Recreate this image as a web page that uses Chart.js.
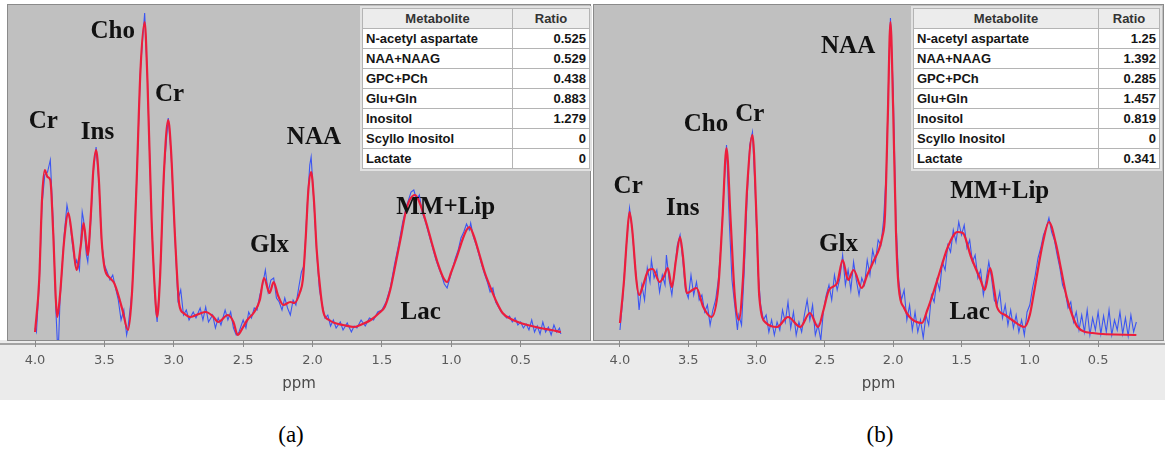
<!DOCTYPE html>
<html>
<head>
<meta charset="utf-8">
<script src="https://cdn.jsdelivr.net/npm/chart.js@4.4.1/dist/chart.umd.min.js"></script>
<style>
  body { margin: 0; background: #fff; width: 1165px; height: 454px; position: relative; overflow: hidden; font-family: "Liberation Sans", Arial, sans-serif; }
  canvas { position: absolute; top: 0; }
  #cA { left: 0; }
  #cB { left: 592px; }
  .ratio { position: absolute; top: 8px; border-collapse: collapse; background: #fff; font: bold 13px "Liberation Sans", Arial, sans-serif; color: #151515; outline: 2px solid #e2e2e2; }
  .ratio td, .ratio th { border: 1px solid #b4b4b4; height: 19px; padding: 0 3px; white-space: nowrap; }
  .ratio th { background: #ececec; color: #333; text-align: center; }
  .ratio td.v { text-align: right; }
  .cap { position: absolute; top: 422px; font: 23px "Liberation Serif", "Times New Roman", serif; color: #000; transform: translateX(-50%); }
</style>
</head>
<body>
<canvas id="cA" width="592" height="405"></canvas>
<canvas id="cB" width="573" height="405"></canvas>
<table class="ratio" id="tA" style="left:362px;width:228px"></table>
<table class="ratio" id="tB" style="left:913px;width:247px"></table>
<div class="cap" style="left:291px">(a)</div>
<div class="cap" style="left:880px">(b)</div>
<script>
// ppm tick marks
const TICKS = [4.0, 3.5, 3.0, 2.5, 2.0, 1.5, 1.0, 0.5];

// ratio tables
const METABOLITES = ['N-acetyl aspartate', 'NAA+NAAG', 'GPC+PCh', 'Glu+Gln', 'Inositol', 'Scyllo Inositol', 'Lactate'];
const RATIOS_A = ['0.525', '0.529', '0.438', '0.883', '1.279', '0', '0'];
const RATIOS_B = ['1.25', '1.392', '0.285', '1.457', '0.819', '0', '0.341'];

// peak names: [text, ppm, height]
const LABELS_A = [['Cr', 3.94, 218], ['Ins', 3.55, 207], ['Cho', 3.44, 308], ['Cr', 3.03, 245], ['NAA', 1.99, 202], ['Glx', 2.31, 94], ['MM+Lip', 1.04, 132], ['Lac', 1.22, 27]];
const LABELS_B = [['Cr', 3.94, 153], ['Ins', 3.54, 131], ['Cho', 3.37, 215], ['Cr', 3.05, 225], ['NAA', 2.33, 293], ['Glx', 2.40, 95], ['MM+Lip', 1.22, 148], ['Lac', 1.44, 27]];

// spectrum (a): fitted curve and measured signal, [ppm, intensity]
const FIT_A = [[4.00,8],[3.97,60],[3.95,140],[3.93,170],[3.91,163],[3.89,160],[3.87,110],[3.85,40],[3.84,23],[3.82,45],[3.79,100],[3.76,127],[3.73,100],[3.70,70],[3.67,95],[3.65,117],[3.63,95],[3.62,85],[3.60,120],[3.58,170],[3.56,190],[3.54,160],[3.52,100],[3.50,73],[3.46,62],[3.43,57],[3.40,45],[3.37,30],[3.33,10],[3.30,50],[3.27,150],[3.24,270],[3.21,318],[3.19,260],[3.16,120],[3.13,35],[3.12,23],[3.10,60],[3.07,170],[3.04,220],[3.02,190],[2.99,100],[2.96,35],[2.93,27],[2.88,23],[2.82,26],[2.77,28],[2.72,24],[2.68,18],[2.61,25],[2.57,18],[2.54,5],[2.50,13],[2.47,20],[2.42,28],[2.38,40],[2.35,62],[2.32,50],[2.31,47],[2.28,58],[2.25,45],[2.21,35],[2.16,38],[2.13,37],[2.09,48],[2.07,60],[2.05,100],[2.03,150],[2.01,168],[1.99,140],[1.97,90],[1.94,45],[1.92,27],[1.88,20],[1.84,17],[1.78,15],[1.70,13],[1.64,16],[1.58,20],[1.52,27],[1.48,33],[1.44,50],[1.40,77],[1.36,105],[1.33,127],[1.30,140],[1.26,145],[1.23,138],[1.18,117],[1.14,97],[1.10,78],[1.06,63],[1.03,58],[1.00,68],[0.96,83],[0.92,100],[0.89,110],[0.87,113],[0.84,105],[0.80,87],[0.76,68],[0.71,50],[0.67,37],[0.63,27],[0.57,21],[0.52,18],[0.45,15],[0.36,12],[0.28,10],[0.21,8]];
const RAW_A = [[4.00,12],[3.99,8],[3.97,55],[3.95,135],[3.93,165],[3.91,168],[3.89,180],[3.87,120],[3.85,30],[3.84,0],[3.83,0],[3.82,40],[3.79,105],[3.77,135],[3.75,120],[3.73,95],[3.71,75],[3.70,80],[3.68,70],[3.66,128],[3.65,120],[3.63,85],[3.62,78],[3.60,115],[3.58,168],[3.56,193],[3.54,158],[3.52,98],[3.50,75],[3.48,68],[3.46,60],[3.44,65],[3.42,52],[3.40,40],[3.38,20],[3.36,30],[3.34,5],[3.33,12],[3.30,50],[3.27,150],[3.24,272],[3.21,327],[3.19,262],[3.16,118],[3.13,30],[3.12,18],[3.10,60],[3.07,170],[3.04,222],[3.02,188],[2.99,98],[2.97,40],[2.95,50],[2.93,25],[2.91,30],[2.89,20],[2.86,28],[2.84,22],[2.81,32],[2.79,20],[2.77,33],[2.75,18],[2.72,25],[2.70,12],[2.68,22],[2.66,15],[2.63,30],[2.61,20],[2.59,28],[2.57,12],[2.55,5],[2.53,8],[2.50,20],[2.48,12],[2.46,28],[2.44,22],[2.42,32],[2.40,30],[2.38,45],[2.36,55],[2.34,70],[2.32,48],[2.30,60],[2.28,62],[2.26,42],[2.24,38],[2.22,30],[2.20,42],[2.18,32],[2.16,25],[2.14,40],[2.12,35],[2.10,52],[2.08,68],[2.06,75],[2.04,130],[2.02,175],[2.01,183],[1.99,138],[1.97,88],[1.95,50],[1.93,35],[1.91,22],[1.89,25],[1.87,14],[1.85,20],[1.83,12],[1.80,18],[1.78,10],[1.75,17],[1.72,8],[1.70,14],[1.68,12],[1.65,20],[1.62,14],[1.59,22],[1.56,20],[1.53,28],[1.50,30],[1.47,38],[1.44,52],[1.41,75],[1.38,95],[1.35,118],[1.32,135],[1.29,148],[1.27,150],[1.25,140],[1.23,145],[1.21,128],[1.19,120],[1.17,110],[1.15,100],[1.13,90],[1.11,80],[1.09,72],[1.07,65],[1.05,56],[1.03,52],[1.01,62],[0.99,72],[0.97,82],[0.95,90],[0.93,102],[0.91,108],[0.89,116],[0.87,110],[0.86,117],[0.84,103],[0.82,95],[0.80,85],[0.78,75],[0.76,66],[0.74,58],[0.72,48],[0.70,52],[0.68,38],[0.66,33],[0.64,28],[0.62,25],[0.60,22],[0.58,24],[0.56,18],[0.54,22],[0.52,15],[0.50,18],[0.48,12],[0.46,16],[0.44,10],[0.42,20],[0.40,8],[0.38,14],[0.36,6],[0.34,18],[0.32,8],[0.30,13],[0.28,5],[0.26,15],[0.24,8],[0.22,12],[0.21,6]];

// spectrum (b)
const FIT_B = [[4.00,17],[3.97,60],[3.95,100],[3.93,128],[3.91,110],[3.88,60],[3.86,45],[3.83,55],[3.79,70],[3.76,71],[3.71,58],[3.68,63],[3.65,72],[3.62,53],[3.59,80],[3.56,103],[3.54,85],[3.51,47],[3.47,50],[3.44,52],[3.39,33],[3.33,23],[3.28,53],[3.25,120],[3.22,192],[3.19,120],[3.16,45],[3.13,20],[3.10,60],[3.07,150],[3.03,205],[3.00,120],[2.98,43],[2.93,17],[2.85,13],[2.77,23],[2.68,13],[2.61,27],[2.55,13],[2.51,30],[2.47,50],[2.41,57],[2.37,80],[2.33,60],[2.29,70],[2.23,52],[2.19,65],[2.15,77],[2.08,103],[2.06,125],[2.04,220],[2.02,318],[2.00,230],[1.98,110],[1.96,53],[1.92,32],[1.88,23],[1.79,17],[1.75,30],[1.70,50],[1.65,72],[1.60,93],[1.53,108],[1.49,107],[1.43,83],[1.36,60],[1.33,50],[1.29,72],[1.26,50],[1.24,33],[1.18,25],[1.13,20],[1.04,13],[1.00,25],[0.97,47],[0.90,100],[0.86,118],[0.81,97],[0.77,70],[0.73,43],[0.69,25],[0.65,13],[0.54,7],[0.22,5]];
const RAW_B = [[4.00,10],[3.98,40],[3.97,62],[3.95,100],[3.93,132],[3.91,110],[3.89,75],[3.87,48],[3.86,30],[3.84,55],[3.82,40],[3.80,72],[3.78,58],[3.77,80],[3.75,62],[3.73,70],[3.71,48],[3.69,65],[3.67,55],[3.66,85],[3.64,60],[3.62,45],[3.60,70],[3.58,95],[3.56,105],[3.54,80],[3.52,50],[3.50,42],[3.48,65],[3.46,45],[3.44,58],[3.42,40],[3.40,45],[3.38,28],[3.36,35],[3.34,15],[3.32,30],[3.30,40],[3.28,60],[3.26,95],[3.24,150],[3.22,195],[3.20,120],[3.18,60],[3.16,35],[3.14,10],[3.13,25],[3.11,15],[3.09,70],[3.07,140],[3.05,195],[3.03,208],[3.01,150],[2.99,70],[2.97,35],[2.95,20],[2.93,25],[2.91,8],[2.89,20],[2.87,5],[2.85,18],[2.83,10],[2.81,30],[2.79,18],[2.77,38],[2.75,12],[2.73,28],[2.71,5],[2.69,18],[2.67,8],[2.65,25],[2.63,40],[2.61,20],[2.59,35],[2.57,5],[2.55,15],[2.53,0],[2.51,30],[2.49,45],[2.47,55],[2.45,40],[2.43,65],[2.41,50],[2.39,62],[2.37,85],[2.35,55],[2.33,70],[2.31,50],[2.29,78],[2.27,60],[2.25,45],[2.23,62],[2.21,55],[2.19,80],[2.17,65],[2.15,90],[2.13,78],[2.11,100],[2.09,95],[2.07,120],[2.05,170],[2.03,280],[2.02,322],[2.00,250],[1.98,120],[1.96,60],[1.94,40],[1.92,50],[1.90,20],[1.88,35],[1.86,10],[1.84,28],[1.82,8],[1.80,20],[1.78,2],[1.76,25],[1.74,15],[1.72,45],[1.70,38],[1.68,60],[1.66,50],[1.64,78],[1.62,70],[1.60,95],[1.58,88],[1.56,110],[1.54,98],[1.52,118],[1.50,105],[1.48,115],[1.46,92],[1.44,100],[1.42,78],[1.40,85],[1.38,62],[1.36,70],[1.34,45],[1.32,60],[1.30,78],[1.28,62],[1.26,40],[1.24,35],[1.22,48],[1.20,22],[1.18,35],[1.16,15],[1.14,30],[1.12,12],[1.10,25],[1.08,8],[1.06,20],[1.04,5],[1.02,28],[1.00,35],[0.98,52],[0.96,65],[0.94,82],[0.92,92],[0.90,105],[0.88,112],[0.86,122],[0.84,108],[0.82,100],[0.80,85],[0.78,72],[0.76,55],[0.74,48],[0.72,32],[0.70,38],[0.68,18],[0.66,28],[0.64,10],[0.62,25],[0.60,8],[0.58,30],[0.56,5],[0.54,22],[0.52,10],[0.50,28],[0.48,6],[0.46,24],[0.44,8],[0.42,30],[0.40,5],[0.38,20],[0.36,10],[0.34,28],[0.32,6],[0.30,22],[0.28,4],[0.26,25],[0.24,8],[0.22,18]];

const xy = arr => arr.map(([x, y]) => ({ x, y }));

function fillTable(id, ratios) {
  const t = document.getElementById(id);
  t.innerHTML = '<tr><th>Metabolite</th><th>Ratio</th></tr>' +
    METABOLITES.map((m, i) => `<tr><td>${m}</td><td class="v">${ratios[i]}</td></tr>`).join('');
  t.rows[0].cells[1].style.width = id === 'tA' ? '70px' : '54px';
}

const panelPlugin = {
  id: 'panel',
  beforeDraw(chart) {
    const { ctx, chartArea: a, width } = chart;
    ctx.save();
    ctx.fillStyle = '#ebebeb';
    ctx.fillRect(0, a.bottom, width, 400 - a.bottom);
    ctx.fillStyle = '#c0c0c0';
    ctx.fillRect(a.left, a.top, a.right - a.left, a.bottom - a.top);
    ctx.strokeStyle = '#8a8a8a'; ctx.lineWidth = 1;
    ctx.strokeRect(a.left - 0.5, a.top - 0.5, a.right - a.left + 1, a.bottom - a.top + 1);
    ctx.strokeStyle = '#a3a3a3'; ctx.lineWidth = 2;
    ctx.beginPath(); ctx.moveTo(0, a.bottom + 4); ctx.lineTo(width, a.bottom + 4); ctx.stroke();
    ctx.restore();
  },
  afterDatasetsDraw(chart, args, opts) {
    const { ctx, scales } = chart;
    ctx.save();
    ctx.font = 'bold 25px "Liberation Serif", "Times New Roman", serif';
    ctx.fillStyle = '#111';
    ctx.textAlign = 'center'; ctx.textBaseline = 'middle';
    (opts.labels || []).forEach(([t, p, h]) => ctx.fillText(t, scales.x.getPixelForValue(p), scales.y.getPixelForValue(h)));
    ctx.restore();
  }
};

function makeChart(id, fit, raw, labels, xmin, xmax, padLeft) {
  return new Chart(document.getElementById(id), {
    type: 'line',
    data: { datasets: [
      { data: xy(fit), borderColor: '#ec1e3c', borderWidth: 2.2, pointRadius: 0, cubicInterpolationMode: 'monotone', order: 0 },
      { data: xy(raw), borderColor: '#3b55f2', borderWidth: 1.1, pointRadius: 0, tension: 0, order: 1 },
    ]},
    options: {
      responsive: false, animation: false, parsing: false,
      layout: { padding: { left: padLeft, right: 2, top: 5, bottom: 0 } },
      plugins: { legend: { display: false }, tooltip: { enabled: false }, panel: { labels } },
      scales: {
        x: {
          type: 'linear', reverse: true, min: xmin, max: xmax,
          afterBuildTicks: s => { s.ticks = TICKS.map(v => ({ value: v })); },
          afterFit: s => { s.height = 65; },
          grid: { drawOnChartArea: false, drawTicks: true, tickLength: 7, color: '#8a8a8a' },
          border: { display: false },
          ticks: { padding: 6, color: '#5a5a5a', font: { family: 'DejaVu Sans', size: 13 }, callback: v => Number(v).toFixed(1) },
          title: { display: true, text: 'ppm', color: '#4a4a4a', font: { family: 'DejaVu Sans', size: 15 }, padding: { top: 0, bottom: 12 } },
        },
        y: { display: false, min: 0, max: 335 },
      },
    },
    plugins: [panelPlugin],
  });
}

fillTable('tA', RATIOS_A);
fillTable('tB', RATIOS_B);
makeChart('cA', FIT_A, RAW_A, LABELS_A, 0.0, 4.195, 8);
makeChart('cB', FIT_B, RAW_B, LABELS_B, 0.025, 4.19, 2);
</script>
</body>
</html>
